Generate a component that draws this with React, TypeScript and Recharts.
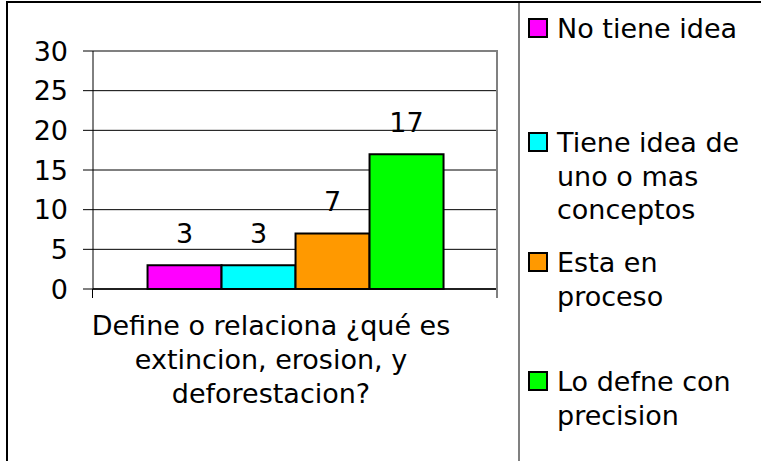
import React from "react";
import {
  BarChart,
  Bar,
  XAxis,
  YAxis,
  CartesianGrid,
  Legend,
  LabelList,
  ReferenceLine,
} from "recharts";

const categories = ["Define o relaciona ¿qué es extincion, erosion, y deforestacion?"];
const categoryLabelLines = [["Define o relaciona ¿qué es", "extincion, erosion, y", "deforestacion?"]];
const seriesNames = [
  "No tiene idea",
  "Tiene idea de uno o mas conceptos",
  "Esta en proceso",
  "Lo defne con precision",
];
const seriesKeys = ["s1", "s2", "s3", "s4"];
const seriesValues = [[3], [3], [7], [17]];
const seriesColors = ["#FF00FF", "#00FFFF", "#FF9900", "#00FF00"];
const yTicks = [0, 5, 10, 15, 20, 25, 30];

const data = categories.map((c, i) => {
  const row: Record<string, string | number> = { category: c };
  seriesKeys.forEach((k, j) => {
    row[k] = seriesValues[j][i];
  });
  return row;
});

const FONT = "'DejaVu Sans', sans-serif";
const FS = 27;

const XTick = (props: any) => {
  const { x, y, payload } = props;
  const idx = categories.indexOf(payload.value);
  const lines = idx >= 0 ? categoryLabelLines[idx] : [String(payload.value)];
  return (
    <text
      x={x - 24}
      y={y}
      textAnchor="middle"
      fontSize={FS}
      fontFamily={FONT}
      fill="#000"
    >
      {lines.map((l, i) => (
        <tspan key={i} x={x - 24} dy={i === 0 ? 19 : 34}>
          {l}
        </tspan>
      ))}
    </text>
  );
};

const legendTops = [12, 126, 246, 365];

const LegendContent = (props: any) => {
  const payload = [...(props.payload || [])].sort(
    (a: any, b: any) => seriesNames.indexOf(a.value) - seriesNames.indexOf(b.value)
  );
  return (
    <div style={{ position: "relative", width: 241, height: 461, fontFamily: FONT, fontSize: FS }}>
      {payload.map((p: any, i: number) => (
        <div key={i} style={{ position: "absolute", left: 0, top: legendTops[i] }}>
          <div
            style={{
              position: "absolute",
              left: 8,
              top: 6,
              width: 16,
              height: 16,
              background: p.color,
              border: "2px solid #000",
            }}
          />
          <div
            style={{
              position: "absolute",
              left: 37,
              top: 0,
              width: 204,
              lineHeight: "33.5px",
              color: "#000",
              whiteSpace: "normal",
            }}
          >
            {p.value}
          </div>
        </div>
      ))}
    </div>
  );
};

export default function App() {
  return (
    <div
      style={{
        position: "absolute",
        left: 0,
        top: 0,
        width: 761,
        height: 461,
        overflow: "hidden",
        background: "#fff",
      }}
    >
      <div style={{ position: "absolute", left: 6, top: 1, width: 755, height: 2, background: "#000" }} />
      <div style={{ position: "absolute", left: 6, top: 1, width: 2, height: 460, background: "#000" }} />
      <div style={{ position: "absolute", left: 518, top: 3, width: 2, height: 458, background: "#808080" }} />
      <div style={{ position: "absolute", left: 0, top: 0 }}>
        <BarChart
          width={761}
          height={461}
          data={data}
          margin={{ top: 51, right: 264, bottom: 0, left: 0 }}
          barCategoryGap="13.5%"
          barGap={0}
        >
          <CartesianGrid vertical={false} stroke="#000" strokeWidth={1} />
          <XAxis
            dataKey="category"
            height={172}
            tickLine={false}
            tickSize={0}
            tickMargin={27}
            axisLine={{ stroke: "#000", strokeWidth: 1.5 }}
            tick={<XTick />}
            interval={0}
          />
          <YAxis
            width={93}
            domain={[0, 30]}
            ticks={yTicks}
            interval={0}
            tickSize={10}
            tickMargin={15}
            axisLine={{ stroke: "#000", strokeWidth: 1 }}
            tickLine={{ stroke: "#000", strokeWidth: 1 }}
            tick={{ fontSize: FS, fontFamily: FONT, fill: "#000" }}
          />
          <ReferenceLine y={30} stroke="#808080" strokeWidth={2} />
          <Legend
            layout="vertical"
            align="center"
            verticalAlign="middle"
            wrapperStyle={{ left: 520, top: 0, width: 241, height: 461 }}
            content={<LegendContent />}
          />
          {seriesKeys.map((k, j) => (
            <Bar
              key={k}
              dataKey={k}
              name={seriesNames[j]}
              fill={seriesColors[j]}
              stroke="#000"
              strokeWidth={2}
              isAnimationActive={false}
            >
              <LabelList
                dataKey={k}
                position="top"
                offset={22}
                fontSize={FS}
                fontFamily={FONT}
                fill="#000"
              />
            </Bar>
          ))}
        </BarChart>
      </div>
      <div style={{ position: "absolute", left: 92, top: 289, width: 1, height: 9, background: "#000" }} />
      <div style={{ position: "absolute", left: 496, top: 50, width: 2, height: 248, background: "#808080" }} />
    </div>
  );
}
